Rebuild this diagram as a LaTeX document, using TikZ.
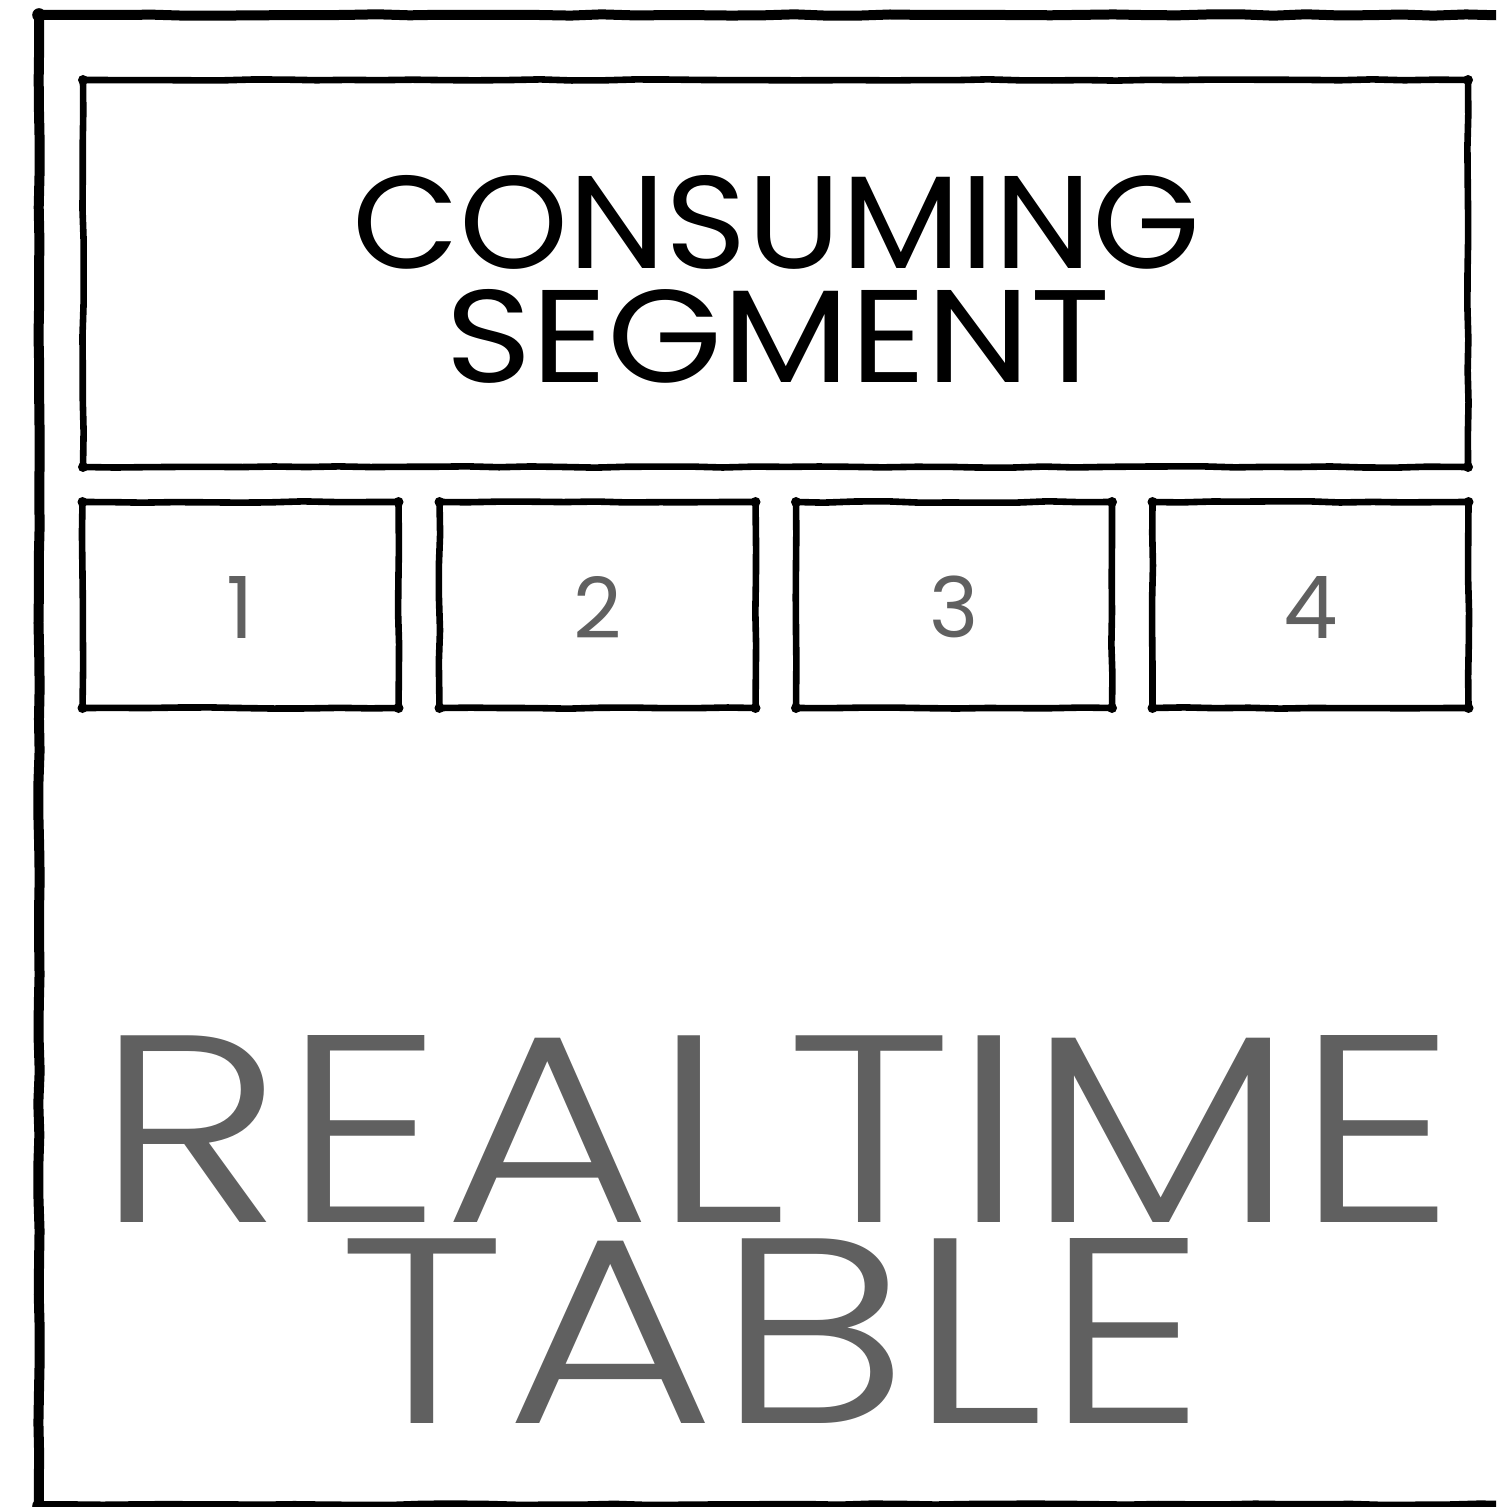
\documentclass[tikz,border=0pt]{standalone}
\usepackage{fontspec}
\setmainfont{Poppins}
\newfontfamily\lightfont{Poppins}[UprightFont=* Light]
\usetikzlibrary{decorations.pathmorphing}
\definecolor{txtgray}{HTML}{606060}
\begin{document}
\pgfmathsetseed{7}
\begin{tikzpicture}[x=0.5pt,y=-0.5pt,
  sketch/.style={draw=black, line join=round, line cap=round, decorate,
    decoration={random steps, segment length=16pt, amplitude=0.35pt}},
  outerline/.style={sketch, line width=5pt},
  boxline/.style={sketch, line width=3.3pt, inner sep=0pt, outer sep=0pt},
  bigbox/.style={boxline, minimum width=692.5pt, minimum height=193.5pt},
  smallbox/.style={boxline, minimum width=158pt, minimum height=103pt},
  lbl/.style={inner sep=0pt, outer sep=0pt},
  blob/.style={fill=black},
]
\useasboundingbox (0,0) rectangle (1496,1507);
\begin{scope}
  \clip (0,0) rectangle (1496,1507);
  \draw[outerline] (39,15) rectangle (1530,1506);
  \fill[blob] (39,15) circle (3.4pt);
  \fill[blob] (39,1506) circle (3.4pt);
\end{scope}

\node[bigbox] (seg) at (775.5,273.5) {};
\node[smallbox] (b1) at (240.5,605) {};
\node[smallbox] (b2) at (597.5,605) {};
\node[smallbox] (b3) at (954,605) {};
\node[smallbox] (b4) at (1310.5,605) {};

\foreach \n in {seg,b1,b2,b3,b4}{
  \foreach \a in {north west,north east,south west,south east}{
    \fill[blob] (\n.\a) circle (2.5pt);
  }
}

\node[lbl, anchor=south west] (c1) at (352,269) {\resizebox*{424pt}{47pt}{CONSUMING}};
\node[lbl, anchor=south west] (c2) at (445,383) {\resizebox*{332.5pt}{47pt}{SEGMENT}};

\node[lbl, text=txtgray] (n1) at (240.5,607) {\resizebox*{!}{31pt}{1}};
\node[lbl, text=txtgray] (n2) at (597.5,607) {\resizebox*{!}{31pt}{2}};
\node[lbl, text=txtgray] (n3) at (954,607) {\resizebox*{!}{31pt}{3}};
\node[lbl, text=txtgray] (n4) at (1310.5,607) {\resizebox*{!}{31pt}{4}};

\node[lbl, anchor=south west, text=txtgray] (r1) at (95,1222) {\resizebox*{680.5pt}{93.5pt}{\lightfont REALTIME}};
\node[lbl, anchor=south west, text=txtgray] (r2) at (338,1423) {\resizebox*{434pt}{92.5pt}{\lightfont TABLE}};
\end{tikzpicture}
\end{document}
